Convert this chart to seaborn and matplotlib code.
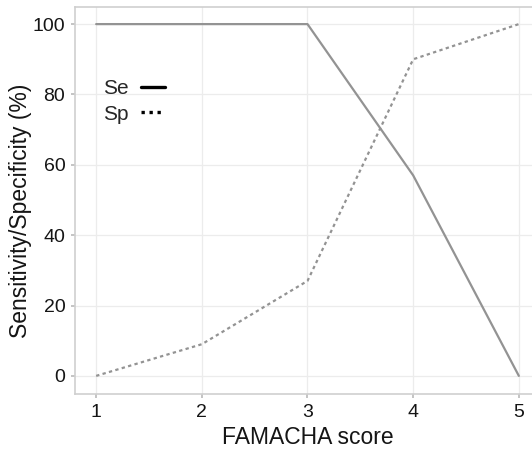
import matplotlib
matplotlib.use("Agg")
import matplotlib.pyplot as plt
from matplotlib.lines import Line2D
import seaborn as sns
import pandas as pd

scores = [1, 2, 3, 4, 5]
sensitivity = [100, 100, 100, 57, 0]
specificity = [0, 9, 27, 90, 100]

df = pd.DataFrame({
    "score": scores * 2,
    "value": sensitivity + specificity,
    "measure": ["Se"] * len(scores) + ["Sp"] * len(scores),
})

sns.set_theme(style="white")
plt.rcParams["font.family"] = ["Liberation Sans", "DejaVu Sans"]

TEXT = "#151515"

fig = plt.figure(figsize=(5.32, 4.51), dpi=100)
ax = fig.add_axes([0.141, 0.126, 0.874, 0.858])

sns.lineplot(
    data=df, x="score", y="value", style="measure",
    dashes={"Se": "", "Sp": (1.5, 1.5)}, color="#939393",
    linewidth=1.6, legend=False, ax=ax,
)

ax.set_xlim(0.8, 5.2)
ax.set_ylim(-5.2, 104.8)
ax.set_xticks(scores)
ax.set_yticks([0, 20, 40, 60, 80, 100])
ax.grid(True, color="#ececec", linewidth=0.9)
for s in ["left", "bottom", "top"]:
    ax.spines[s].set_color("#cfcfcf")
    ax.spines[s].set_linewidth(1.2)
ax.spines["right"].set_visible(False)
ax.tick_params(axis="both", which="both", length=3, color="#bdbdbd",
               labelsize=14, labelcolor=TEXT, direction="out",
               bottom=True, left=True, pad=4)
ax.set_xlabel("FAMACHA score", fontsize=16.5, color=TEXT, labelpad=4)
ax.set_ylabel("Sensitivity/Specificity (%)", fontsize=16.5, color=TEXT, labelpad=0)
ax.yaxis.set_label_coords(-0.093, 0.475)

handles = [
    Line2D([], [], color="black", linewidth=2.4, linestyle="-"),
    Line2D([], [], color="black", linewidth=2.4, linestyle=(0, (1, 1.4))),
]
ax.legend(handles, ["Se", "Sp"], loc="upper left", bbox_to_anchor=(0.042, 0.835),
          frameon=False, handlelength=1.15, handletextpad=0.6, markerfirst=False,
          fontsize=15, labelspacing=0.3, borderaxespad=0)

fig.savefig("out.png", dpi=100)
